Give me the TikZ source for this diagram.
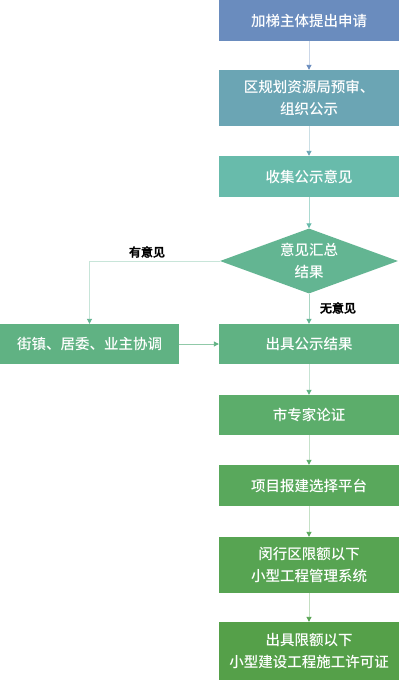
\documentclass[tikz,border=0pt]{standalone}
\usepackage{fontspec}
\setmainfont{Noto Sans CJK SC Medium}
\usetikzlibrary{shapes.geometric,arrows.meta}
\definecolor{cA}{HTML}{6A8CBE}
\definecolor{cB}{HTML}{6BA5B4}
\definecolor{cC}{HTML}{68BBAB}
\definecolor{cD}{HTML}{63B592}
\definecolor{cE}{HTML}{60B283}
\definecolor{cF}{HTML}{5CAD6B}
\definecolor{cG}{HTML}{59A85C}
\definecolor{cH}{HTML}{57A452}
\definecolor{cI}{HTML}{55A049}
\tikzset{
  box/.style={rectangle, minimum width=180pt, text=white, font=\fontsize{14.5}{22}\selectfont, align=center, inner sep=0pt},
  conn/.style={line width=0.9pt},
  lab/.style={font=\fontsize{12}{14}\selectfont, text=black}
}
\begin{document}
\begin{tikzpicture}[x=1pt,y=-1pt]
\useasboundingbox (0,0) rectangle (400,680);
\fill[white] (0,0) rectangle (400,680);
\node[box, fill=cA, minimum height=41pt] (n1) at (309,20.5) {加梯主体提出申请};
\node[box, fill=cB, minimum height=56pt] (n2) at (309,98) {区规划资源局预审、\\组织公示};
\node[box, fill=cC, minimum height=41pt] (n3) at (309,176.5) {收集公示意见};
\node[diamond, fill=cD, aspect=2.74, minimum width=178pt, minimum height=65pt, inner sep=0pt, text=white, font=\fontsize{14.5}{22}\selectfont, align=center] (d) at (309,261) {意见汇总\\结果};
\node[box, fill=cE, minimum height=40pt] (n4) at (309,344) {出具公示结果};
\node[box, fill=cE, minimum height=40pt, minimum width=179pt] (l) at (89.5,344) {街镇、居委、业主协调};
\node[box, fill=cF, minimum height=40pt] (n5) at (309,415) {市专家论证};
\node[box, fill=cG, minimum height=41pt] (n6) at (309,485.5) {项目报建选择平台};
\node[box, fill=cH, minimum height=56pt] (n7) at (309,565) {闵行区限额以下\\小型工程管理系统};
\node[box, fill=cI, minimum height=58pt] (n8) at (309,651) {出具限额以下\\小型建设工程施工许可证};
\coordinate (k) at (d.west -| l.north);
\draw[conn, draw=cA!35, -{Triangle[length=5pt,width=5pt,fill=cA,color=cA]}] (n1) -- (n2);
\draw[conn, draw=cB!35, -{Triangle[length=5pt,width=5pt,fill=cB,color=cB]}] (n2) -- (n3);
\draw[conn, draw=cC!55, -{Triangle[length=5pt,width=5pt,fill=cC,color=cC]}] (n3) -- (d);
\draw[conn, draw=cD!35, -{Triangle[length=5pt,width=5pt,fill=cD,color=cD]}] (d.west) -- (k) -- (l.north);
\draw[conn, draw=cD!55, -{Triangle[length=5pt,width=5pt,fill=cD,color=cD]}] (d) -- (n4);
\draw[conn, draw=cE!70, -{Triangle[length=5pt,width=5pt,fill=cE,color=cE]}] (l) -- (n4);
\draw[conn, draw=cE!35, -{Triangle[length=5pt,width=5pt,fill=cE,color=cE]}] (n4) -- (n5);
\draw[conn, draw=cF!35, -{Triangle[length=5pt,width=5pt,fill=cF,color=cF]}] (n5) -- (n6);
\draw[conn, draw=cG!35, -{Triangle[length=5pt,width=5pt,fill=cG,color=cG]}] (n6) -- (n7);
\draw[conn, draw=cH!35, -{Triangle[length=5pt,width=5pt,fill=cH,color=cH]}] (n7) -- (n8);
\node[lab] (t1) at (147,252) {\addfontfeature{FakeBold=2}有意见};
\node[lab] (t2) at (338,308) {\addfontfeature{FakeBold=2}无意见};
\end{tikzpicture}
\end{document}
